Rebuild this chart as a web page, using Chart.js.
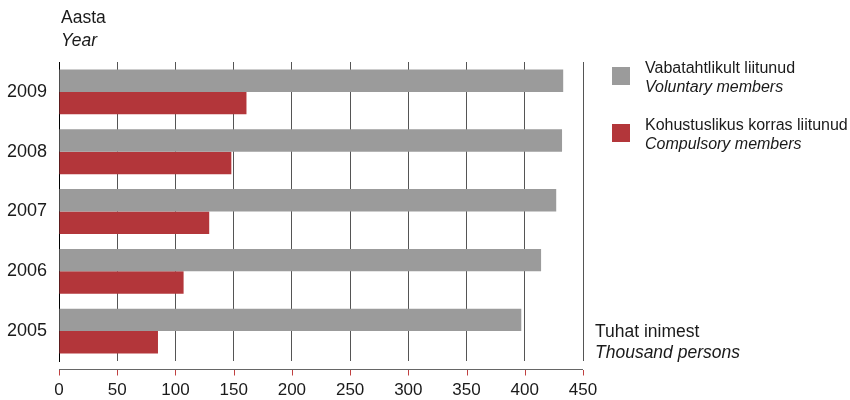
<!DOCTYPE html>
<html><head><meta charset="utf-8">
<script src="https://cdn.jsdelivr.net/npm/chart.js@4/dist/chart.umd.min.js"></script>
<style>
html,body{margin:0;padding:0;background:#fff;}
#wrap{position:relative;width:850px;height:400px;font-family:"Liberation Sans",Arial,sans-serif;color:#1a1a1a;}
canvas{position:absolute;left:0;top:0;}
.t{position:absolute;font-size:17.5px;line-height:20px;white-space:nowrap;}
.l{position:absolute;font-size:16px;line-height:19px;white-space:nowrap;}
.i{font-style:italic;}
.sw{position:absolute;width:18px;height:18px;}
</style></head><body>
<div id="wrap">
<canvas id="c" width="850" height="400"></canvas>
<div class="t" style="left:61px;top:7px;">Aasta</div>
<div class="t i" style="left:61px;top:30px;">Year</div>
<div class="t" style="left:595px;top:321px;">Tuhat inimest</div>
<div class="t i" style="left:595px;top:342px;">Thousand persons</div>
<div id="legend"></div>
</div>
<script>
const categories = ['2009','2008','2007','2006','2005'];
const voluntary = [433, 432, 427, 414, 397];
const compulsory = [161, 148, 129, 107, 85];
const seriesLabels = [['Vabatahtlikult liitunud','Voluntary members'],['Kohustuslikus korras liitunud','Compulsory members']];
const xTicks = [0,50,100,150,200,250,300,350,400,450];
const colors = ['#9b9b9b','#b3363a'];

const lg = document.getElementById('legend');
seriesLabels.forEach((l,i)=>{
  const top = 67 + i*57;
  lg.insertAdjacentHTML('beforeend',
   `<div class="sw" style="left:612px;top:${top}px;background:${colors[i]}"></div>
    <div class="l" style="left:645px;top:${top-9}px;">${l[0]}</div>
    <div class="l i" style="left:645px;top:${top+10}px;">${l[1]}</div>`);
});

const axisPlugin = {
  id:'axisLine',
  afterDraw(chart){
    const ctx = chart.ctx, xs = chart.scales.x, ca = chart.chartArea;
    const y = Math.round(ca.bottom) + 8.5;
    ctx.save();
    ctx.strokeStyle = '#666'; ctx.lineWidth = 1;
    ctx.beginPath(); ctx.moveTo(xs.getPixelForValue(xTicks[0]), y); ctx.lineTo(xs.getPixelForValue(xTicks[xTicks.length-1]), y); ctx.stroke();
    ctx.strokeStyle = '#c04040';
    xTicks.forEach(v=>{
      const x = Math.round(xs.getPixelForValue(v))+0.5;
      ctx.beginPath(); ctx.moveTo(x, y+0.5); ctx.lineTo(x, y+6); ctx.stroke();
    });
    ctx.restore();
  }
};

new Chart(document.getElementById('c'), {
  type:'bar',
  data:{labels:categories, datasets:[
    {label:seriesLabels[0][0], data:voluntary, backgroundColor:colors[0]},
    {label:seriesLabels[1][0], data:compulsory, backgroundColor:colors[1]}
  ]},
  options:{
    indexAxis:'y', responsive:false, animation:false,
    categoryPercentage:0.75, barPercentage:1.0,
    layout:{padding:{top:62,right:267,left:0,bottom:0}},
    plugins:{legend:{display:false}, tooltip:{enabled:false}},
    scales:{
      x:{min:0,max:450,
        afterBuildTicks(s){ s.ticks = xTicks.map(v=>({value:v})); },
        afterFit(s){ s.height = 39; },
        grid:{color:'#555', drawTicks:false, lineWidth:1},
        border:{display:false},
        ticks:{padding:19, color:'#1a1a1a', font:{family:'Liberation Sans', size:17}}
      },
      y:{
        afterFit(s){ s.width = 59; },
        grid:{display:false, drawTicks:false},
        border:{display:true, color:'#000', width:1},
        ticks:{padding:12, color:'#1a1a1a', font:{family:'Liberation Sans', size:18}}
      }
    }
  },
  plugins:[axisPlugin]
});
</script>
</body></html>
